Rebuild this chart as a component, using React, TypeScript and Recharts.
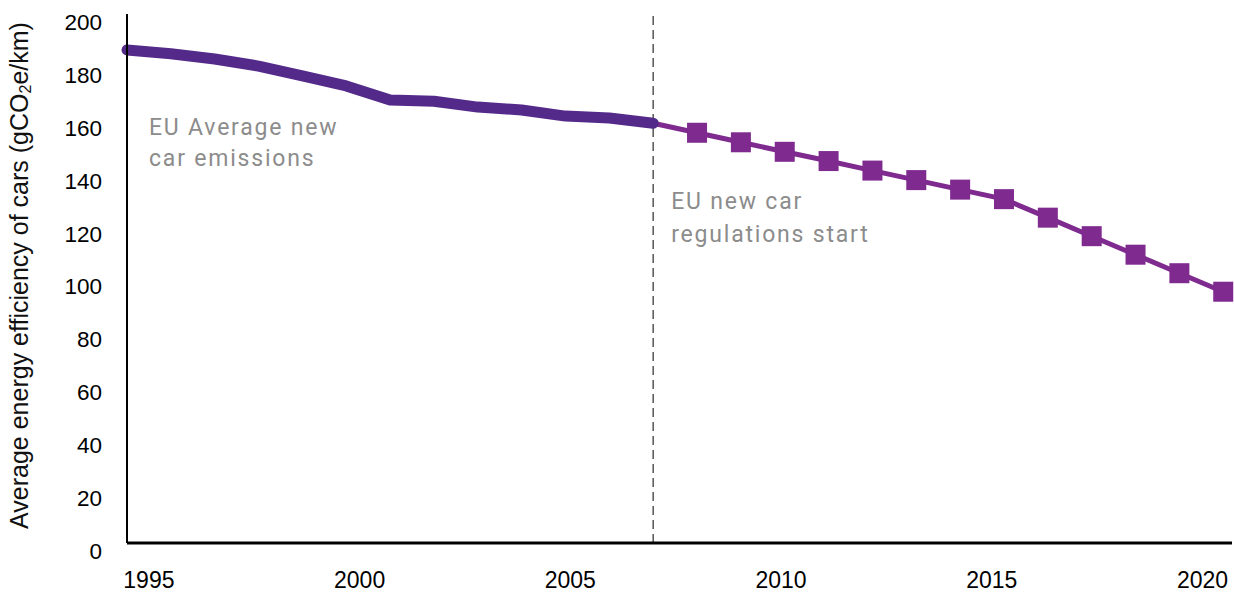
import { Line, LineChart, ReferenceDot, ReferenceLine, XAxis, YAxis } from "recharts";

const years = [1995, 1996, 1997, 1998, 1999, 2000, 2001, 2002, 2003, 2004, 2005, 2006, 2007, 2008, 2009, 2010, 2011, 2012, 2013, 2014, 2015, 2016, 2017, 2018, 2019, 2020];

// observed average (1995-2007)
const averageValues = [186.4, 185, 183, 180.3, 176.6, 172.8, 167.5, 167, 164.8, 163.7, 161.4, 160.7, 158.7];

// regulation path (2007-2020)
const regulationValues = [158.7, 155.1, 151.5, 147.9, 144.4, 140.8, 137.2, 133.6, 130, 123, 116, 109, 102, 95];

const yTicks = [0, 20, 40, 60, 80, 100, 120, 140, 160, 180, 200];
const xTicks = [1995, 2000, 2005, 2010, 2015, 2020];

const regulationStart = 2007;

const data = years.map((year, i) => ({
  year,
  average: i < averageValues.length ? averageValues[i] : null,
  regulation: i >= averageValues.length - 1 ? regulationValues[i - (averageValues.length - 1)] : null
}));

const annotationColor = "#8c8c8c";

function SquareDot(props: any) {
  const { cx, cy, index } = props;
  if (cx == null || cy == null || index === averageValues.length - 1) return null;
  return <rect x={cx - 10} y={cy - 10} width={20} height={20} fill="#7f2a8f" />;
}

function TwoLineNote({ viewBox, lines, dx, dy, gap }: any) {
  const x = (viewBox?.x ?? 0) + dx;
  const y = (viewBox?.y ?? 0) + dy;
  return (
    <text x={x} y={y} fill={annotationColor} fontSize={23} letterSpacing={1.8} fontFamily="Roboto, sans-serif">
      {lines.map((l: string, i: number) => (
        <tspan key={i} x={x} dy={i === 0 ? 0 : gap}>
          {l}
        </tspan>
      ))}
    </text>
  );
}

function YLabel({ viewBox }: any) {
  const cx = 19;
  const cy = (viewBox?.y ?? 0) + (viewBox?.height ?? 0) / 2 - 3;
  return (
    <text
      x={cx}
      y={cy}
      transform={`rotate(-90 ${cx} ${cy})`}
      textAnchor="middle"
      dominantBaseline="central"
      fontSize={25}
      fontFamily="'Liberation Sans', Arial, sans-serif"
      fill="#111"
    >
      Average energy efficiency of cars (gCO
      <tspan fontSize={16} dy={6}>2</tspan>
      <tspan dy={-6}>e/km)</tspan>
    </text>
  );
}

export default function App() {
  return (
    <div style={{ position: "absolute", left: 0, top: 0, background: "#fff" }}>
      <LineChart width={1234} height={592} data={data} margin={{ top: 14, right: 2, bottom: 0, left: 0 }}>
        <XAxis dataKey="year" type="number" domain={[1995, 2020.2]} height={0} hide />
        {/* year labels sit on their own evenly spaced scale, like the original */}
        <XAxis
          xAxisId="labels"
          dataKey="year"
          type="number"
          domain={[1994.48, 2020.7]}
          allowDataOverflow
          ticks={xTicks}
          tickLine={false}
          tickSize={0}
          tickMargin={29}
          height={49}
          axisLine={{ stroke: "#000", strokeWidth: 3 }}
          tick={{ fontSize: 23, fill: "#000", fontFamily: "'Liberation Sans', Arial, sans-serif" }}
        />
        <YAxis
          type="number"
          domain={[0, 200]}
          ticks={yTicks}
          width={127}
          tickLine={false}
          tickSize={0}
          tickMargin={25}
          axisLine={{ stroke: "#000", strokeWidth: 2 }}
          tick={{ fontSize: 22.5, fill: "#000", fontFamily: "'Liberation Sans', Arial, sans-serif", dy: 8 }}
          label={{ content: <YLabel /> }}
        />
        <ReferenceLine
          x={regulationStart}
          stroke="#555"
          strokeWidth={1.5}
          strokeDasharray="9 5"
          label={{ content: <TwoLineNote lines={["EU new car", "regulations start"]} dx={18} dy={195} gap={33} /> }}
        />
        <ReferenceDot
          x={1995}
          y={200}
          r={0}
          fill="none"
          stroke="none"
          label={{ content: <TwoLineNote lines={["EU Average new", "car emissions"]} dx={22} dy={121} gap={31} /> }}
        />
        <Line
          dataKey="regulation"
          stroke="#7f2a8f"
          strokeWidth={5}
          dot={<SquareDot />}
          activeDot={false}
          connectNulls={false}
          isAnimationActive={false}
        />
        <Line
          dataKey="average"
          stroke="#532a8a"
          strokeWidth={11}
          strokeLinecap="round"
          strokeLinejoin="round"
          dot={false}
          activeDot={false}
          isAnimationActive={false}
        />
      </LineChart>
    </div>
  );
}
